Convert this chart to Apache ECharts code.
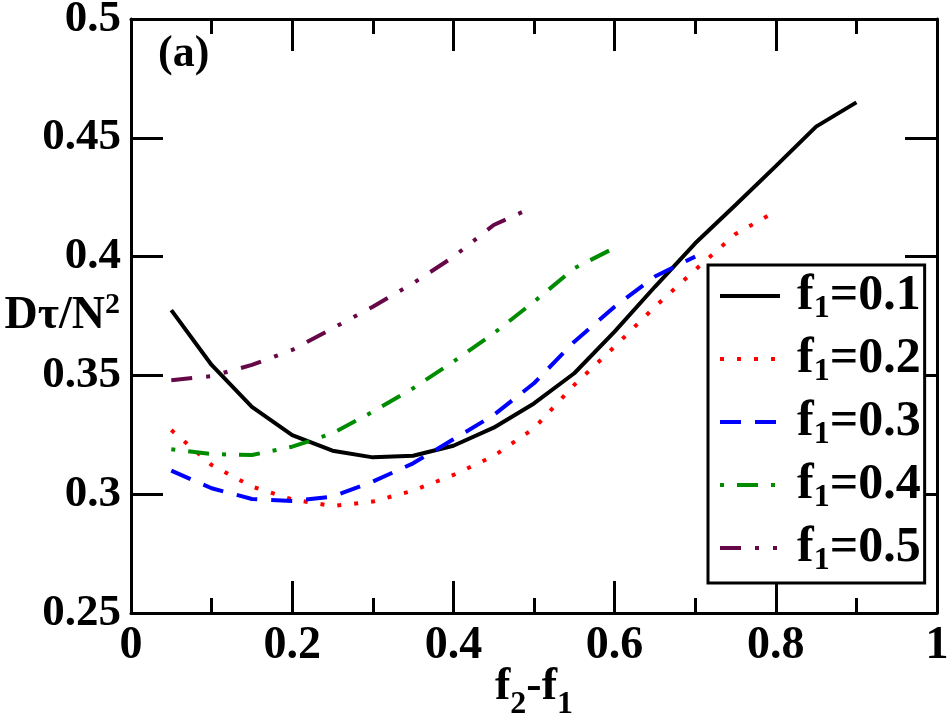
<!DOCTYPE html>
<html>
<head>
<meta charset="utf-8">
<script src="https://cdn.jsdelivr.net/npm/echarts@6/dist/echarts.min.js"></script>
<style>
  html, body { margin: 0; padding: 0; background: #fff; }
  #main { width: 950px; height: 720px; }
</style>
</head>
<body>
<div id="main"></div>
<script>
// ==============================================================
// D tau / N^2 vs f2-f1
// ==============================================================
var xVals = [0.05, 0.1, 0.15, 0.2, 0.25, 0.3, 0.35, 0.4, 0.45, 0.5, 0.55, 0.6, 0.65, 0.7, 0.75, 0.8, 0.85, 0.9];
var seriesNames = ['f1=0.1', 'f1=0.2', 'f1=0.3', 'f1=0.4', 'f1=0.5'];
var f1_01 = [0.3775, 0.3544, 0.3368, 0.3249, 0.3183, 0.3155, 0.3162, 0.3204, 0.328, 0.3382, 0.3509, 0.3684, 0.3873, 0.4056, 0.4217, 0.4381, 0.4547, 0.4649];
var f1_02 = [0.327, 0.3123, 0.3032, 0.2978, 0.295, 0.2969, 0.3015, 0.3081, 0.3161, 0.3277, 0.346, 0.3621, 0.3789, 0.3944, 0.4095, 0.419];
var f1_03 = [0.3099, 0.3025, 0.298, 0.2971, 0.299, 0.3053, 0.313, 0.3231, 0.3333, 0.3467, 0.3642, 0.3789, 0.3916, 0.400];
var f1_04 = [0.3189, 0.3169, 0.3165, 0.32, 0.3256, 0.3347, 0.3446, 0.3558, 0.3677, 0.381, 0.3951, 0.4037];
var f1_05 = [0.348, 0.3497, 0.3544, 0.3607, 0.3698, 0.3789, 0.3888, 0.3999, 0.4133, 0.421];

var FONT = 'Liberation Serif';

function pairs(vals) {
    return vals.map(function (v, i) { return [xVals[i], v]; });
}

var styles = [
    { color: '#000000', type: 'solid' },
    { color: '#ff0000', type: [4, 13] },
    { color: '#0000ff', type: [21, 14] },
    { color: '#008c00', type: [4, 13, 21, 13] },
    { color: '#660748', type: [21, 14, 4, 14, 4, 14] }
];
var allVals = [f1_01, f1_02, f1_03, f1_04, f1_05];

var series = allVals.map(function (vals, k) {
    return {
        name: seriesNames[k],
        type: 'line',
        data: pairs(vals),
        symbol: 'none',
        smooth: false,
        lineStyle: { color: styles[k].color, width: 4, type: styles[k].type, cap: 'butt' },
        itemStyle: { color: styles[k].color }
    };
});

var tickStyle = { color: '#000', width: 3 };

var dom = document.getElementById('main');
var myChart = echarts.init(dom);
var option = {
    animation: false,
    grid: { left: 131, right: 13, top: 19, bottom: 107, containLabel: false, outerBoundsMode: 'none' },
    legend: {
        orient: 'vertical',
        left: 708,
        top: 265,
        padding: [6, 4, 6, 10],
        itemGap: 9,
        itemWidth: 60,
        itemHeight: 20,
        borderColor: '#000',
        borderWidth: 3,
        backgroundColor: '#fff',
        itemStyle: { opacity: 0 },
        lineStyle: { width: 4 },
        data: seriesNames,
        formatter: function (name) {
            return '{g|}{b|f}{s|1}{b|' + name.slice(2) + '}';
        },
        textStyle: {
            rich: {
                g: { width: 12 },
                b: { fontFamily: FONT, fontWeight: 'bold', fontSize: 50, color: '#000' },
                s: { fontFamily: FONT, fontWeight: 'bold', fontSize: 32, color: '#000', padding: [26, 0, 0, 0] }
            }
        }
    },
    graphic: [{
        type: 'text',
        left: 158,
        top: 33,
        style: { text: '(a)', fontFamily: FONT, fontWeight: 'bold', fontSize: 44, fill: '#000' }
    }],
    xAxis: [{
        type: 'value',
        min: 0, max: 1, interval: 0.2,
        position: 'bottom',
        axisLine: { onZero: false, lineStyle: tickStyle },
        axisTick: { inside: true, length: 32, lineStyle: tickStyle },
        minorTick: { show: true, splitNumber: 2, length: 15, lineStyle: tickStyle },
        splitLine: { show: false },
        axisLabel: {
            margin: 10,
            fontFamily: FONT, fontWeight: 'bold', fontSize: 46, color: '#000',
            formatter: function (v) { return String(+v.toFixed(2)); }
        },
        name: '{b|f}{s|2}{b|-f}{s|1}',
        nameLocation: 'middle',
        nameMoveOverlap: false,
        nameGap: 40,
        nameTextStyle: {
            rich: {
                b: { fontFamily: FONT, fontWeight: 'bold', fontSize: 46, color: '#000' },
                s: { fontFamily: FONT, fontWeight: 'bold', fontSize: 32, color: '#000', padding: [36, 0, 0, 0] }
            }
        }
    }, {
        type: 'value',
        min: 0, max: 1, interval: 0.2,
        position: 'top',
        axisLine: { onZero: false, lineStyle: tickStyle },
        axisTick: { inside: true, length: 32, lineStyle: tickStyle },
        minorTick: { show: true, splitNumber: 2, length: 15, lineStyle: tickStyle },
        splitLine: { show: false },
        axisLabel: { show: false }
    }],
    yAxis: [{
        type: 'value',
        min: 0.25, max: 0.5, interval: 0.05,
        position: 'left',
        axisLine: { onZero: false, lineStyle: tickStyle },
        axisTick: { inside: true, length: 32, lineStyle: tickStyle },
        splitLine: { show: false },
        axisLabel: {
            margin: 10,
            fontFamily: FONT, fontWeight: 'bold', fontSize: 45, color: '#000',
            formatter: function (v) { return String(+v.toFixed(2)); }
        },
        name: '{b|D\u03c4/N}{p|2}',
        nameLocation: 'middle',
        nameRotate: 0,
        nameMoveOverlap: false,
        nameGap: 11,
        nameTextStyle: {
            rich: {
                b: { fontFamily: FONT, fontWeight: 'bold', fontSize: 46, color: '#000' },
                p: { fontFamily: FONT, fontWeight: 'bold', fontSize: 30, color: '#000', padding: [0, 0, 22, 0] }
            }
        }
    }, {
        type: 'value',
        min: 0.25, max: 0.5, interval: 0.05,
        position: 'right',
        axisLine: { onZero: false, lineStyle: tickStyle },
        axisTick: { inside: true, length: 32, lineStyle: tickStyle },
        splitLine: { show: false },
        axisLabel: { show: false }
    }],
    series: series
};

if (option && typeof option === 'object') {
    myChart.setOption(option, true);
}
</script>
</body>
</html>
